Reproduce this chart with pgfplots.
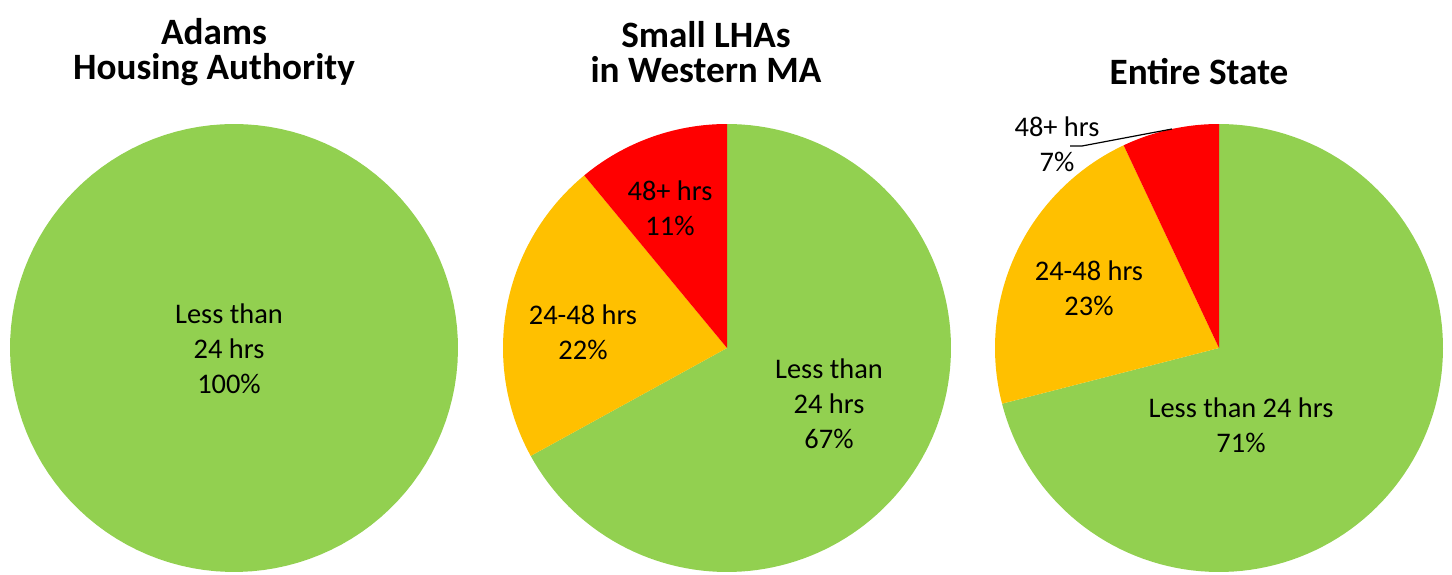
\documentclass[border=0pt]{standalone}
\usepackage{pgfplots}
\pgfplotsset{compat=1.18}
\usepackage{fontspec}
\setmainfont{Carlito}
\definecolor{cgreen}{HTML}{92D050}
\definecolor{corange}{HTML}{FFC000}
\definecolor{cred}{HTML}{FF0000}
% slice from percentage a to percentage b (clockwise from 12 o'clock)
\newcommand{\slice}[3]{%
  \pgfmathsetmacro{\angA}{90-3.6*#2}%
  \pgfmathsetmacro{\angB}{90-3.6*#1}%
  \addplot[fill=#3, draw=none, domain=\angA:\angB, samples=120, variable=\t] ({cos(\t)},{sin(\t)}) -- (axis cs:0,0) -- cycle;
}
\pgfplotsset{pie/.style={width=224pt, height=224pt, scale only axis, xmin=-1, xmax=1, ymin=-1, ymax=1, hide axis, anchor=center, clip=false}}
\begin{document}
\begin{tikzpicture}
\path (0,0) rectangle (726pt,287pt);
% Pie 1: Adams Housing Authority -- 100%
\begin{axis}[pie, at={(117pt,113pt)}]
\slice{0}{100}{cgreen}
\end{axis}
% Pie 2: Small LHAs -- 67 / 22 / 11
\begin{axis}[pie, at={(363.5pt,113pt)}]
\slice{0}{67}{cgreen}
\slice{67}{89}{corange}
\slice{89}{100}{cred}
\end{axis}
% Pie 3: Entire State -- 71 / 23 / 7
\begin{axis}[pie, at={(609.5pt,113pt)}]
\slice{0}{71}{cgreen}
\slice{71}{93}{corange}
\slice{93}{100}{cred}
\end{axis}
% Titles
\begin{scope}[every node/.style={align=center, font=\bfseries\fontsize{18.6}{17.6}\selectfont}]
\node at (107pt,261pt) {Adams\\Housing Authority};
\node at (353pt,261pt) {Small LHAs\\in Western MA};
\node at (599.5pt,251pt) {Entire State};
\end{scope}
% Labels
\begin{scope}[every node/.style={align=center, font=\fontsize{14.2}{17.5}\selectfont}]
\node at (114.5pt,112.5pt) {Less than\\24 hrs\\100\%};
\node at (335pt,183pt) {48+ hrs\\11\%};
\node at (291.5pt,121pt) {24-48 hrs\\22\%};
\node at (414.5pt,85pt) {Less than\\24 hrs\\67\%};
\node at (528.5pt,215pt) {48+ hrs\\7\%};
\node at (544.5pt,143pt) {24-48 hrs\\23\%};
\node at (620.5pt,74.5pt) {Less than 24 hrs\\71\%};
\end{scope}
\draw[line width=0.6pt] (535pt,214pt) -- (541pt,214pt) -- (586pt,222.5pt);
\end{tikzpicture}
\end{document}
